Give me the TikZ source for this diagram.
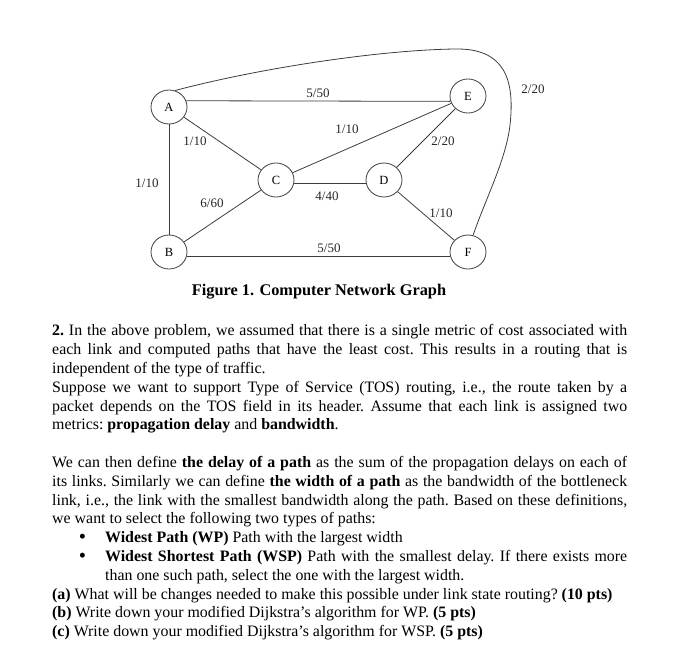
\documentclass[tikz,border=0pt]{standalone}
\usepackage{fontspec}
\setmainfont{Liberation Serif}
\usetikzlibrary{shapes.geometric}
\definecolor{linkgray}{HTML}{3C3C3C}

\begin{document}
\begin{tikzpicture}[x=1pt, y=-1pt, font=\fontsize{12.5}{14}\selectfont,
  vtx/.style={ellipse, draw=linkgray, line width=0.8pt, minimum width=36pt, minimum height=34pt, inner sep=0pt},
  link/.style={draw=linkgray, line width=0.8pt},
  lbl/.style={font=\fontsize{13}{15}\selectfont, inner sep=1pt, text=black!85}]
  \useasboundingbox (0,0) rectangle (683,656);
  % routers
  \node[vtx] (A) at (169,107) {A};
  \node[vtx] (B) at (169,252) {B};
  \node[vtx] (C) at (276,180) {C};
  \node[vtx] (D) at (384,180) {D};
  \node[vtx] (E) at (468,96) {E};
  \node[vtx] (F) at (468,252) {F};
  % links
  \draw[link] (A.20) -- (E.197);
  \draw[link] (A) -- (B);
  \draw[link] (A) -- (C);
  \draw[link] (B) -- (C);
  \draw[link] (C) -- (E);
  \draw[link] (C.-10) -- (D.190);
  \draw[link] (D) -- (E);
  \draw[link] (D) -- (F);
  \draw[link] (B.-15) -- (F.195);
  \draw[link] (A.70) .. controls (260,68) and (380,50) .. (455,49)
    .. controls (505,48) and (515,80) .. (510,125)
    .. controls (506,160) and (485,200) .. (F.73);
  % delay/bandwidth labels
  \node[lbl] (lAE) at (318,93) {5/50};
  \node[lbl] (lCE) at (347,129) {1/10};
  \node[lbl] (lAC) at (195,141) {1/10};
  \node[lbl] (lAB) at (147,183) {1/10};
  \node[lbl] (lBC) at (212,203) {6/60};
  \node[lbl] (lCD) at (327,196) {4/40};
  \node[lbl] (lBF) at (329,248) {5/50};
  \node[lbl] (lDE) at (443,141) {2/20};
  \node[lbl] (lDF) at (441,213) {1/10};
  \node[lbl] (lAF) at (533,89) {2/20};
  \node[font=\bfseries\fontsize{16.3}{18.8}\selectfont, inner sep=0pt] (cap) at (319,292) {Figure 1. Computer Network Graph};
  % question text
  \node[anchor=north west, inner sep=0pt, text width=575pt, align=justify,
    font=\fontsize{15.9}{18.8}\selectfont] (body) at (52,322.5) {%
    \parindent=0pt\parskip=0pt\frenchspacing
    \strut\textbf{2.} In the above problem, we assumed that there is a single metric of cost associated with\linebreak
    each link and computed paths that have the least cost. This results in a routing that is\linebreak
    independent of the type of traffic.\par
    Suppose we want to support Type of Service (TOS) routing, i.e., the route taken by a\linebreak
    packet depends on the TOS field in its header. Assume that each link is assigned two\linebreak
    metrics: \textbf{propagation delay} and \textbf{bandwidth}.\par
    \vspace{18.8pt}
    We can then define \textbf{the delay of a path} as the sum of the propagation delays on each of\linebreak
    its links. Similarly we can define \textbf{the width of a path} as the bandwidth of the bottleneck\linebreak
    link, i.e., the link with the smallest bandwidth along the path. Based on these definitions,\linebreak
    we want to select the following two types of paths:\par
    \hangindent=53pt\hangafter=0
    \leavevmode\llap{\raisebox{-1.2pt}{\scalebox{1.3}{\textbullet}}\hspace{19pt}}\textbf{Widest Path (WP)} Path with the largest width\par
    \hangindent=53pt\hangafter=0
    \leavevmode\llap{\raisebox{-1.2pt}{\scalebox{1.3}{\textbullet}}\hspace{19pt}}\textbf{Widest Shortest Path (WSP)} Path with the smallest delay. If there exists more\linebreak
    than one such path, select the one with the largest width.\par
    \textbf{(a)} What will be changes needed to make this possible under link state routing? \textbf{(10 pts)}\par
    \textbf{(b)} Write down your modified Dijkstra's algorithm for WP. \textbf{(5 pts)}\par
    \textbf{(c)} Write down your modified Dijkstra's algorithm for WSP. \textbf{(5 pts)}\par};
\end{tikzpicture}
\end{document}
